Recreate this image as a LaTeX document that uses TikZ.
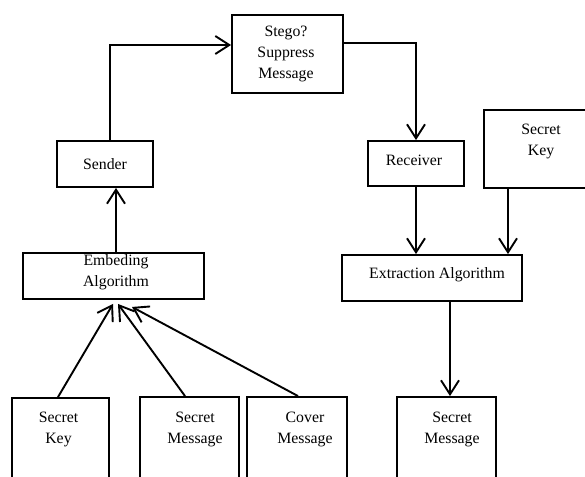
\documentclass[tikz,border=0pt]{standalone}
\usepackage{fontspec}
\setmainfont{Liberation Serif}
\usetikzlibrary{arrows.meta,calc}
\begin{document}
\begin{tikzpicture}[x=1pt,y=-1pt,
  box/.style={draw=black,line width=1.9pt,inner sep=0pt},
  txt/.style={inner sep=0pt,align=center,font=\fontsize{15.8pt}{21pt}\selectfont},
  arr/.style={line width=1.9pt,-{Straight Barb[length=14pt,width=18pt]}}]
\useasboundingbox (0,0) rectangle (585,476);
% boxes
\node[box,minimum width=111pt,minimum height=78pt] (stego) at (287.5,54) {};
\node[txt] (stegot) at (286,54) {Stego?\\Suppress\\Message};
\node[box,minimum width=96pt,minimum height=46pt] (sender) at (105,164) {};
\node[txt] (sendert) at (105,164.5) {Sender};
\node[box,minimum width=181pt,minimum height=46pt] (embed) at (113.5,276) {};
\node[txt] (embedt) at (116,272) {Embeding\\Algorithm};
\node[box,minimum width=96pt,minimum height=45pt] (recv) at (416,163.5) {};
\node[txt] (recvt) at (414,160) {Receiver};
\node[box,minimum width=114pt,minimum height=78pt] (key2) at (541,149) {};
\node[txt] (key2t) at (541,141.5) {Secret\\Key};
\node[box,minimum width=180pt,minimum height=46pt] (extr) at (432,278) {};
\node[txt] (extrt) at (437,274.5) {Extraction Algorithm};
\node[box,minimum width=97pt,minimum height=92pt] (key1) at (60.5,444) {};
\node[txt] (key1t) at (58.5,429) {Secret\\Key};
\node[box,minimum width=99pt,minimum height=93pt] (smsg1) at (189.5,443.5) {};
\node[txt] (smsg1t) at (195,429) {Secret\\Message};
\node[box,minimum width=100pt,minimum height=93pt] (cmsg) at (297,443.5) {};
\node[txt] (cmsgt) at (305,429) {Cover\\Message};
\node[box,minimum width=99pt,minimum height=93pt] (smsg2) at (446.5,443.5) {};
\node[txt] (smsg2t) at (452,429) {Secret\\Message};
% connectors
\draw[arr] ([xshift=5pt]sender.north) |- ([yshift=9pt]stego.west);
\draw[arr] ([yshift=11pt]stego.east) -| (recv.north);
\draw[arr] (recv.south) -- (recv.south |- extr.north);
\coordinate (k2b) at ([xshift=-33pt]key2.south);
\draw[arr] (k2b) -- (k2b |- extr.north);
\coordinate (exb) at ([xshift=18pt]extr.south);
\draw[arr] (exb) -- (exb |- smsg2.north);
\coordinate (emt) at ([xshift=2.5pt]embed.north);
\draw[arr] (emt) -- (emt |- sender.south);
\coordinate (t1) at ([xshift=-0.5pt,yshift=-4pt]embed.south);
\coordinate (t2) at ([xshift=4.5pt,yshift=-4pt]embed.south);
\coordinate (t3) at ([xshift=18.5pt,yshift=-7pt]embed.south);
\draw[arr] ([xshift=-2.5pt]key1.north) -- (t1);
\draw[arr] ([xshift=-4.5pt]smsg1.north) -- (t2);
\draw[arr] ([xshift=1pt]cmsg.north) -- (t3);
\end{tikzpicture}
\end{document}
